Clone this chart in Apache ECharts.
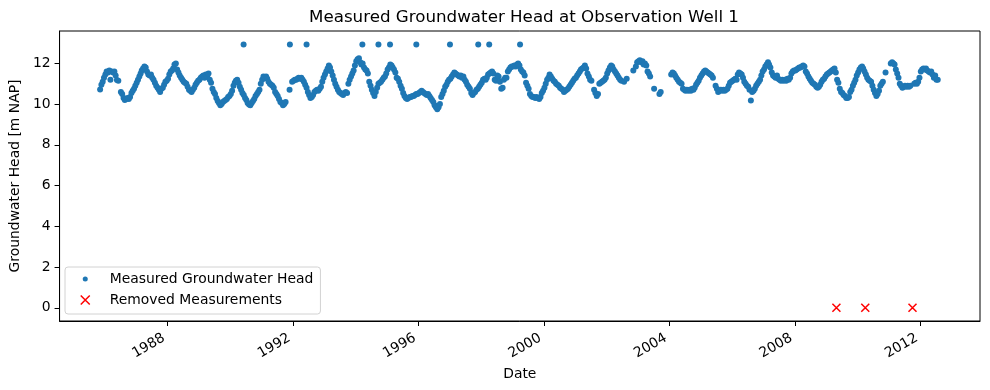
<!DOCTYPE html>
<html>
<head>
<meta charset="utf-8">
<script src="https://cdn.jsdelivr.net/npm/echarts@6/dist/echarts.min.js"></script>
<style>html,body{margin:0;padding:0;background:#fff;}#chart{width:990px;height:390px;}</style>
</head>
<body>
<div id="chart"></div>
<script>
// Half-monthly measured heads [m NAP] (entries on the 8th and 23rd of each month)
const head1985 = [10.72, 10.95, 11.1, 11.3]; // from November
const head1986 = [11.45, 11.6, 11.55, 11.65, 11.2, 11.6, 11.55, 11.6, 11.4, 11.18, 11.15, null, 10.6, 10.5, 10.3, 10.2, 10.25, 10.3, 10.25, 10.35, 10.55, 10.65, 10.75, 10.9];
const head1987 = [11.05, 11.2, 11.35, 11.5, 11.65, 11.75, 11.85, 11.8, 11.6, 11.45, 11.4, 11.45, 11.3, 11.2, 11.05, 10.9, 10.8, 10.7, 10.6, 10.75, 10.8, 10.95, 11.1, 11.15];
const head1988 = [11.25, 11.45, 11.6, 11.65, 11.75, 11.95, 12.0, 11.7, 11.55, 11.4, 11.3, 11.2, 11.1, 11.05, 11.0, 10.85, 10.7, 10.65, 10.6, 10.7, 10.8, 10.95, 11.05, 11.15];
const head1989 = [11.2, 11.3, 11.35, 11.4, 11.3, 11.45, 11.35, 11.5, 11.2, 11.05, 10.75, 10.6, 10.5, 10.3, 10.15, 10.05, 9.95, 10.0, 10.1, 10.15, 10.2, 10.25, 10.35, 10.4];
const head1990 = [10.5, 10.65, 10.9, 11.05, 11.15, 11.2, 11.05, 10.85, 10.7, 10.55, 10.45, 10.3, 10.2, 10.05, 9.98, 9.95, 10.05, 10.15, 10.25, 10.4, 10.5, 10.6, 10.7, 11.0];
const head1991 = [11.2, 11.35, 11.3, 11.35, 11.25, 11.1, 11.0, 10.95, 10.9, 10.8, 10.6, 10.5, 10.4, 10.25, 10.1, 10.05, 9.95, 10.0, 10.1, null, null, 10.7, null, 11.1];
const head1992 = [11.15, 11.2, 11.2, 11.25, 11.3, 11.25, 11.3, 11.2, 11.1, 10.95, 10.8, 10.6, 10.45, 10.3, 10.35, 10.45, 10.6, 10.65, 10.7, 10.65, 10.75, 10.85, 11.1, 11.3];
const head1993 = [11.45, 11.6, 11.75, 11.9, 11.8, 11.6, 11.4, 11.2, 11.0, 10.85, 10.7, 10.6, 10.55, 10.5, 10.45, 10.55, 10.6, 10.55, 11.0, 11.2, 11.35, 11.5, 11.65, 11.9];
const head1994 = [12.1, 12.2, 12.25, 12.05, 11.95, 12.0, 11.8, 11.7, 11.65, 11.5, 11.1, 10.9, 10.7, 10.55, 10.4, 10.6, 10.8, 11.0, 11.05, 11.1, 11.2, 11.3, 11.35, 11.5];
const head1995 = [11.7, 11.8, 11.95, 11.9, 11.8, 11.7, 11.55, 11.3, 11.25, 11.1, 10.9, 10.75, 10.55, 10.4, 10.3, 10.25, 10.3, 10.35, 10.35, 10.4, 10.4, 10.45, 10.5, 10.5];
const head1996 = [10.55, 10.6, 10.65, 10.6, 10.55, 10.5, 10.45, 10.5, 10.4, 10.3, 10.2, 10.1, 9.95, 9.85, 9.75, 9.85, 10.0, 10.35, 10.5, 10.65, 10.85, 10.95, 11.1, 11.2];
const head1997 = [11.25, 11.35, 11.45, 11.55, 11.5, 11.45, 11.4, 11.35, 11.4, 11.3, 11.35, 11.2, 11.1, 10.95, 10.85, 10.75, 10.55, 10.45, 10.55, 10.6, 10.7, 10.75, 10.85, 10.95];
const head1998 = [11.05, 11.2, 11.25, 11.2, 11.3, 11.45, 11.5, 11.55, 11.6, 11.5, 11.2, 11.15, 11.4, 11.35, 11.1, 10.75, 10.8, 11.2, 11.3, 11.3, 11.6, 11.7, 11.8, 11.85];
const head1999 = [11.85, 11.9, 11.85, 11.95, 12.0, 11.9, 11.7, 11.6, 11.55, 11.4, 11.05, 10.9, 10.75, 10.5, 10.4, 10.35, 10.35, 10.3, 10.35, 10.3, 10.25, 10.35, 10.55, 10.65];
const head2000 = [10.8, 11.0, 11.2, 11.3, 11.45, 11.35, 11.25, 11.15, 11.1, 11.0, 10.95, 10.9, 10.8, 10.75, 10.7, 10.6, 10.65, 10.7, 10.75, 10.85, 10.95, 11.05, 11.15, 11.25];
const head2001 = [11.3, 11.4, 11.5, 11.6, 11.7, 11.75, 11.8, 11.9, 11.75, 11.5, 11.35, 11.2, 11.15, null, 10.7, 10.55, 10.4, 10.5, 11.0, 11.05, 11.1, 11.15, 11.2, 11.3];
const head2002 = [11.5, 11.65, 11.8, 11.9, 11.85, 11.7, 11.6, 11.5, 11.4, 11.3, 11.2, 11.15, null, 11.1, null, 11.25, null, null, null, null, 11.65, null, 11.85, 12.05];
const head2003 = [12.1, 12.15, 12.05, 12.1, 11.95, 12.0, 11.9, 11.6, 11.5, 11.35, null, null, 10.75, null, null, null, 10.5, 10.6, null, null, null, null, null, null];
const head2004 = [null, 11.45, 11.55, 11.5, 11.4, 11.3, 11.2, 11.1, 11.05, 11.0, 10.75, 10.7, 10.65, 10.7, 10.65, 10.7, 10.65, 10.75, 10.7, 10.8, 10.95, 11.05, 11.15, 11.3];
const head2005 = [11.4, 11.5, 11.6, 11.65, 11.6, 11.55, 11.5, 11.45, 11.4, 11.3, null, 10.9, 10.75, 10.6, 10.65, 10.7, 10.65, 10.7, 10.65, 10.7, 10.75, 10.9, 11.05, 11.1];
const head2006 = [11.15, 11.2, 11.25, 11.2, 11.45, 11.55, 11.5, 11.45, 11.3, 11.1, 11.0, 10.9, 10.85, 10.7, 10.18, 10.6, 10.65, 10.75, 10.9, 11.0, 11.1, 11.2, 11.4, 11.6];
const head2007 = [11.7, 11.85, 11.95, 12.05, 11.95, 11.8, 11.55, 11.4, 11.35, 11.3, 11.4, 11.25, 11.2, 11.15, 11.2, 11.15, 11.2, 11.15, 11.25, 11.2, 11.3, 11.5, 11.6, 11.65];
const head2008 = [11.65, 11.7, 11.75, 11.8, 11.8, 11.85, 11.9, 11.85, 11.6, 11.5, 11.35, 11.25, 11.15, 11.05, 11.0, 10.95, 10.85, 10.8, 10.85, 10.95, 11.1, 11.2, 11.25, 11.35];
const head2009 = [11.45, 11.5, 11.55, 11.6, 11.65, 11.7, 11.75, 11.55, 11.2, 11.05, 10.75, 10.6, 10.55, 10.45, 10.4, 10.3, 10.3, 10.35, 10.6, 10.7, 10.9, 11.05, 11.2, 11.4];
const head2010 = [11.55, 11.7, 11.8, 11.85, 11.75, 11.6, 11.45, 11.3, 11.2, 11.15, 11.1, 10.9, 10.7, 10.55, 10.4, 10.5, 10.65, 10.9, 11.0, 11.1, null, 11.55, null, null];
const head2011 = [null, 12.0, 12.05, 12.0, 11.95, 11.7, 11.5, 11.3, 11.0, 10.9, 10.8, 10.85, 10.9, 10.85, 10.9, 10.85, 10.9, null, null, 11.0, 11.05, 11.0, 11.1, 11.3];
const head2012 = [11.6, 11.7, 11.75, 11.7, 11.75, 11.65, 11.6, 11.55, 11.6, 11.45, 11.3, 11.4, 11.2, 11.2];

// Spike measurements (part of the measured series)
const spikeDates = ['1990-06-06', '1991-11-27', '1992-06-08', '1994-03-20', '1994-09-23', '1995-02-05', '1995-12-08', '1997-01-03', '1997-11-28', '1998-04-05', '1999-03-30'];
const spikeValues = [12.93, 12.93, 12.93, 12.93, 12.93, 12.93, 12.93, 12.93, 12.93, 12.93, 12.93];

// Removed measurements
const removedDates = ['2009-04-30', '2010-04-01', '2011-10-03'];
const removedValues = [0, 0, 0];

// Tick labels
const xTickYears = [1988, 1992, 1996, 2000, 2004, 2008, 2012];
const yTickValues = [0, 2, 4, 6, 8, 10, 12];

const yearBlocks = [
  [1985, 10, head1985], [1986, 0, head1986], [1987, 0, head1987], [1988, 0, head1988],
  [1989, 0, head1989], [1990, 0, head1990], [1991, 0, head1991], [1992, 0, head1992],
  [1993, 0, head1993], [1994, 0, head1994], [1995, 0, head1995], [1996, 0, head1996],
  [1997, 0, head1997], [1998, 0, head1998], [1999, 0, head1999], [2000, 0, head2000],
  [2001, 0, head2001], [2002, 0, head2002], [2003, 0, head2003], [2004, 0, head2004],
  [2005, 0, head2005], [2006, 0, head2006], [2007, 0, head2007], [2008, 0, head2008],
  [2009, 0, head2009], [2010, 0, head2010], [2011, 0, head2011], [2012, 0, head2012]
];

function toTs(s) { const p = s.split('-').map(Number); return Date.UTC(p[0], p[1] - 1, p[2]); }

const measured = [];
yearBlocks.forEach(function (b) {
  b[2].forEach(function (v, i) {
    if (v === null) return;
    measured.push([Date.UTC(b[0], b[1] + Math.floor(i / 2), i % 2 ? 23 : 8), v]);
  });
});
spikeDates.forEach(function (d, i) { measured.push([toTs(d), spikeValues[i]]); });
const removed = removedDates.map(function (d, i) { return [toTs(d), removedValues[i]]; });
const xTickTs = xTickYears.map(function (y) { return Date.UTC(y, 0, 1); });

const FONT = 'DejaVu Sans';
const BLUE = '#1f77b4';
const X_PATH = 'path://M0,0L10,10M10,0L0,10';
const DOT_PATH = 'path://M0,0M10,10M2.2,5A2.8,2.8 0 1,0 7.8,5A2.8,2.8 0 1,0 2.2,5Z';

const chart = echarts.init(document.getElementById('chart'), null, { renderer: 'canvas' });
chart.setOption({
  animation: false,
  backgroundColor: '#fff',
  textStyle: { fontFamily: FONT, color: '#000' },
  title: {
    text: 'Measured Groundwater Head at Observation Well 1',
    left: 519, top: 4, textAlign: 'center',
    textStyle: { fontFamily: FONT, fontSize: 16.7, fontWeight: 'normal', color: '#000' }
  },
  grid: { left: 58, right: 10, top: 31, bottom: 69, show: true, borderColor: '#000', borderWidth: 1, backgroundColor: 'transparent' },
  legend: {
    orient: 'vertical', left: 65, top: 267, align: 'left',
    padding: [5, 7, 7, 15], itemGap: 7,
    itemWidth: 9, itemHeight: 9,
    backgroundColor: '#fff', borderColor: '#d2d2d2', borderWidth: 1, borderRadius: 3,
    textStyle: { fontFamily: FONT, fontSize: 13.9, color: '#000', padding: [0, 0, 0, 15] },
    data: [
      { name: 'Measured Groundwater Head', icon: DOT_PATH, itemStyle: { color: BLUE, borderWidth: 0 } },
      { name: 'Removed Measurements', icon: X_PATH, itemStyle: { color: 'red', borderColor: 'red', borderWidth: 1.5 } }
    ]
  },
  xAxis: {
    type: 'value',
    min: Date.UTC(1984, 6, 24), max: Date.UTC(2013, 10, 27),
    name: 'Date', nameLocation: 'middle', nameGap: 45,
    nameTextStyle: { fontFamily: FONT, fontSize: 13.9, color: '#000' },
    axisLine: { onZero: false, lineStyle: { color: '#000', width: 1 } },
    axisTick: { show: true, inside: false, length: 5, lineStyle: { color: '#000' }, customValues: xTickTs },
    axisLabel: {
      rotate: 30, margin: 14, fontFamily: FONT, fontSize: 13.9, color: '#000', padding: [0, 4, 0, 0],
      customValues: xTickTs,
      formatter: function (v) { return String(new Date(v).getUTCFullYear()); }
    },
    splitLine: { show: false }
  },
  yAxis: {
    type: 'value', min: -0.65, max: 13.59,
    name: 'Groundwater Head [m NAP]', nameLocation: 'middle', nameGap: 30, nameRotate: 90,
    nameTextStyle: { fontFamily: FONT, fontSize: 13.9, color: '#000' },
    axisLine: { show: true, onZero: false, lineStyle: { color: '#000', width: 1 } },
    axisTick: { show: true, inside: false, length: 5, lineStyle: { color: '#000' }, customValues: yTickValues },
    axisLabel: { margin: 9, fontFamily: FONT, fontSize: 13.9, color: '#000', customValues: yTickValues },
    splitLine: { show: false }
  },
  series: [
    {
      name: 'Measured Groundwater Head', type: 'scatter', data: measured,
      symbol: 'circle', symbolSize: 6, itemStyle: { color: BLUE, opacity: 1 }, z: 3
    },
    {
      name: 'Removed Measurements', type: 'scatter', data: removed,
      symbol: X_PATH, symbolSize: 8,
      itemStyle: { color: 'red', borderColor: 'red', borderWidth: 1.5, opacity: 1 }, z: 4
    }
  ]
});
</script>
</body>
</html>
